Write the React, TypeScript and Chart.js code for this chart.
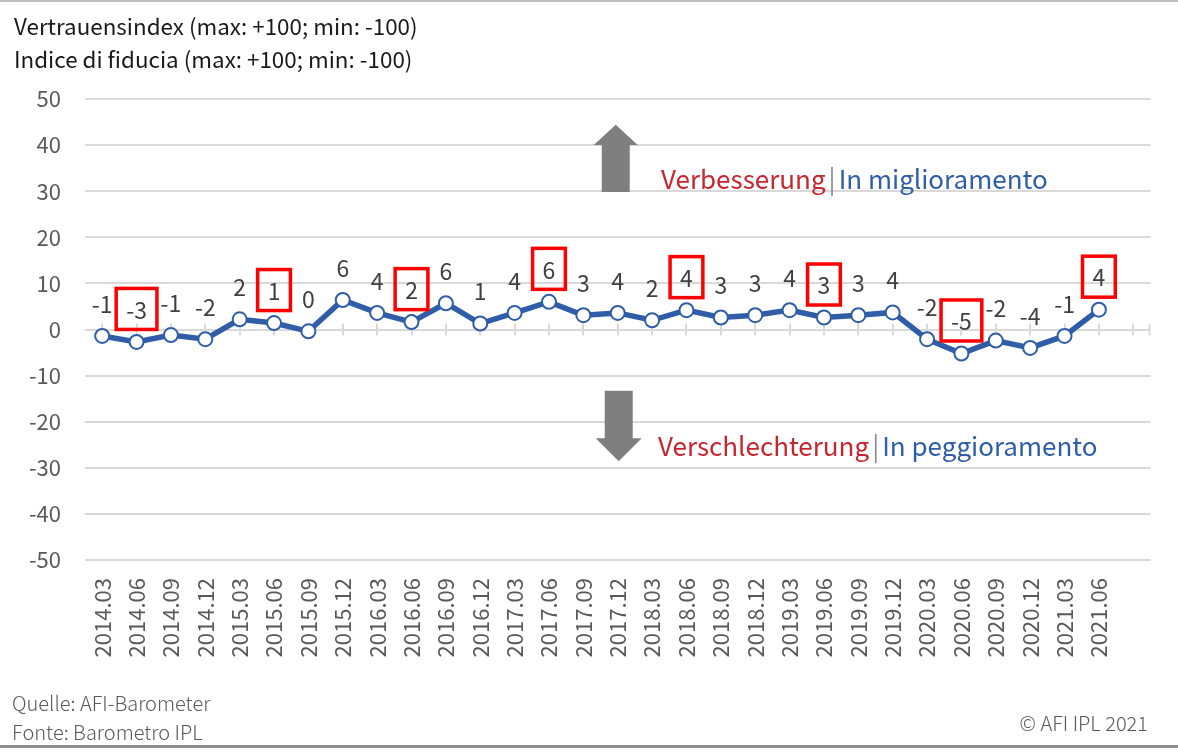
import React, { useEffect, useRef } from 'react';
import { Chart, registerables } from 'chart.js';

Chart.register(...registerables);

// ---------- data ----------
const categories: string[] = [
  '2014.03', '2014.06', '2014.09', '2014.12',
  '2015.03', '2015.06', '2015.09', '2015.12',
  '2016.03', '2016.06', '2016.09', '2016.12',
  '2017.03', '2017.06', '2017.09', '2017.12',
  '2018.03', '2018.06', '2018.09', '2018.12',
  '2019.03', '2019.06', '2019.09', '2019.12',
  '2020.03', '2020.06', '2020.09', '2020.12',
  '2021.03', '2021.06', '',
];

const indexValues: (number | null)[] = [
  -1.4, -2.7, -1.2, -2.1,
  2.2, 1.4, -0.4, 6.4,
  3.6, 1.6, 5.7, 1.3,
  3.6, 6.0, 3.1, 3.6,
  2.0, 4.2, 2.6, 3.1,
  4.2, 2.6, 3.1, 3.7,
  -2.1, -5.2, -2.4, -4.0,
  -1.4, 4.3, null,
];

const valueLabels: string[] = [
  '-1', '-3', '-1', '-2',
  '2', '1', '0', '6',
  '4', '2', '6', '1',
  '4', '6', '3', '4',
  '2', '4', '3', '3',
  '4', '3', '3', '4',
  '-2', '-5', '-2', '-4',
  '-1', '4',
];

const boxedCategories: string[] = [
  '2014.06', '2015.06', '2016.06', '2017.06',
  '2018.06', '2019.06', '2020.06', '2021.06',
];

const yMin = -50;
const yMax = 50;
const yStep = 10;

const titleLines: string[] = [
  'Vertrauensindex (max: +100; min: -100)',
  'Indice di fiducia (max: +100; min: -100)',
];
const upLabel = ['Verbesserung', 'In miglioramento'];
const downLabel = ['Verschlechterung', 'In peggioramento'];
const sourceLines = ['Quelle: AFI-Barometer', 'Fonte: Barometro IPL'];
const copyright = '© AFI IPL 2021';

// ---------- styles ----------
const FONT = '"Noto Sans CJK SC", "Noto Sans", sans-serif';
const GRID = '#d9d9d9';
const AXIS_TEXT = '#595959';
const LABEL_TEXT = '#404040';
const LINE_BLUE = '#2f5da8';
const RED = '#c8262f';
const BOX_RED = '#ff0000';
const ARROW_GRAY = '#7f7f7f';

const zeroTicksPlugin = {
  id: 'zeroTicks',
  beforeDatasetsDraw(chart: any) {
    const { ctx, scales, chartArea } = chart;
    const x = scales.x;
    const y = scales.y;
    const y0 = y.getPixelForValue(0);
    ctx.save();
    ctx.strokeStyle = GRID;
    ctx.lineWidth = 2;
    ctx.beginPath();
    for (let i = 0; i < categories.length; i++) {
      const px = Math.round(x.getPixelForValue(i));
      ctx.moveTo(px, y0 - 6);
      ctx.lineTo(px, y0 + 6);
    }
    ctx.moveTo(chartArea.right - 1, y0 - 6);
    ctx.lineTo(chartArea.right - 1, y0 + 6);
    ctx.stroke();
    ctx.restore();
  },
};

const arrowsPlugin = {
  id: 'arrows',
  beforeDatasetsDraw(chart: any) {
    const { ctx, scales } = chart;
    const x = scales.x;
    const y = scales.y;
    const cx = x.getPixelForValue(15) - 2;
    const shaftHalf = 14;
    const headHalf = 22;
    ctx.save();
    ctx.fillStyle = ARROW_GRAY;
    // up arrow
    let tip = y.getPixelForValue(44.4);
    let base = y.getPixelForValue(40.0);
    let end = y.getPixelForValue(29.8);
    ctx.beginPath();
    ctx.moveTo(cx, tip);
    ctx.lineTo(cx + headHalf, base);
    ctx.lineTo(cx + shaftHalf, base);
    ctx.lineTo(cx + shaftHalf, end);
    ctx.lineTo(cx - shaftHalf, end);
    ctx.lineTo(cx - shaftHalf, base);
    ctx.lineTo(cx - headHalf, base);
    ctx.closePath();
    ctx.fill();
    // down arrow
    const dx = cx + 3;
    end = y.getPixelForValue(-13.3);
    base = y.getPixelForValue(-23.6);
    tip = y.getPixelForValue(-28.6);
    ctx.beginPath();
    ctx.moveTo(dx, tip);
    ctx.lineTo(dx + headHalf + 1, base);
    ctx.lineTo(dx + shaftHalf, base);
    ctx.lineTo(dx + shaftHalf, end);
    ctx.lineTo(dx - shaftHalf, end);
    ctx.lineTo(dx - shaftHalf, base);
    ctx.lineTo(dx - headHalf - 1, base);
    ctx.closePath();
    ctx.fill();
    ctx.restore();
  },
};

const valueLabelsPlugin = {
  id: 'valueLabels',
  afterDatasetsDraw(chart: any) {
    const { ctx } = chart;
    const meta = chart.getDatasetMeta(0);
    ctx.save();
    ctx.font = `23px ${FONT}`;
    ctx.textAlign = 'center';
    ctx.textBaseline = 'middle';
    meta.data.forEach((pt: any, i: number) => {
      const v = indexValues[i];
      if (v === null || v === undefined) return;
      const text = valueLabels[i];
      const lx = pt.x;
      const ly = pt.y - 33;
      ctx.fillStyle = LABEL_TEXT;
      ctx.fillText(text, lx, ly + 1);
      if (boxedCategories.includes(categories[i])) {
        const w = ctx.measureText(text).width + 20;
        const h = 41;
        ctx.strokeStyle = BOX_RED;
        ctx.lineWidth = 3.5;
        ctx.strokeRect(lx - w / 2, ly - h / 2, w, h);
      }
    });
    ctx.restore();
  },
};

export default function App() {
  const canvasRef = useRef<HTMLCanvasElement | null>(null);

  useEffect(() => {
    document.body.style.margin = '0';
    const canvas = canvasRef.current;
    if (!canvas) return;
    const chart = new Chart(canvas, {
      type: 'line',
      data: {
        labels: categories,
        datasets: [
          {
            data: indexValues,
            borderColor: LINE_BLUE,
            borderWidth: 5.5,
            pointRadius: 7,
            pointHoverRadius: 7,
            pointBackgroundColor: '#ffffff',
            pointBorderColor: LINE_BLUE,
            pointBorderWidth: 2,
            tension: 0,
            spanGaps: false,
          },
        ],
      },
      options: {
        responsive: false,
        animation: false,
        devicePixelRatio: 1,
        layout: { padding: { top: 99, right: 20, left: 0, bottom: 0 } },
        plugins: {
          legend: { display: false },
          tooltip: { enabled: false },
          title: { display: false },
        },
        scales: {
          x: {
            type: 'category',
            offset: true,
            grid: { display: false, drawTicks: false },
            border: { display: false },
            ticks: {
              autoSkip: false,
              maxRotation: 90,
              minRotation: 90,
              padding: 18,
              color: AXIS_TEXT,
              font: { family: FONT, size: 22 },
            },
            afterFit(scale: any) {
              scale.height = 192;
            },
          },
          y: {
            min: yMin,
            max: yMax,
            grid: { color: GRID, lineWidth: 2, drawTicks: false },
            border: { display: false },
            ticks: {
              stepSize: yStep,
              padding: 24,
              color: AXIS_TEXT,
              font: { family: FONT, size: 22 },
            },
            afterFit(scale: any) {
              scale.width = 85;
            },
          },
        },
      },
      plugins: [zeroTicksPlugin, arrowsPlugin, valueLabelsPlugin],
    } as any);
    return () => chart.destroy();
  }, []);

  const textBase: React.CSSProperties = {
    position: 'absolute',
    fontFamily: FONT,
    whiteSpace: 'nowrap',
  };

  return (
    <div style={{ position: 'absolute', left: 0, top: 0, width: 1178, height: 752, background: '#ffffff', overflow: 'hidden' }}>
      <canvas ref={canvasRef} width={1178} height={752} style={{ position: 'absolute', left: 0, top: 0 }} />
      <div style={{ position: 'absolute', left: 0, top: 0, width: 1178, height: 2, background: '#bdbdbd' }} />
      <div style={{ position: 'absolute', left: 0, top: 745, width: 1178, height: 3, background: '#8f8f8f' }} />
      <div style={{ ...textBase, left: 14, top: 9, fontSize: 22.4, lineHeight: '33px', color: '#1a1a1a' }}>
        {titleLines.map((t) => (
          <div key={t}>{t}</div>
        ))}
      </div>
      <div style={{ ...textBase, left: 661, top: 160, fontSize: 26, lineHeight: '36px' }}>
        <span style={{ color: RED }}>{upLabel[0]}</span>
        <span style={{ color: '#8c8c8c', margin: '0 3px' }}>|</span>
        <span style={{ color: LINE_BLUE }}>{upLabel[1]}</span>
      </div>
      <div style={{ ...textBase, left: 658, top: 427, fontSize: 26, lineHeight: '36px' }}>
        <span style={{ color: RED }}>{downLabel[0]}</span>
        <span style={{ color: '#8c8c8c', margin: '0 3px' }}>|</span>
        <span style={{ color: LINE_BLUE }}>{downLabel[1]}</span>
      </div>
      <div style={{ ...textBase, left: 12, top: 688, fontSize: 20, lineHeight: '29px', color: AXIS_TEXT, fontWeight: 300 }}>
        {sourceLines.map((t) => (
          <div key={t}>{t}</div>
        ))}
      </div>
      <div style={{ ...textBase, right: 30, top: 708, fontSize: 20, lineHeight: '29px', color: AXIS_TEXT, fontWeight: 300 }}>
        {copyright}
      </div>
    </div>
  );
}
